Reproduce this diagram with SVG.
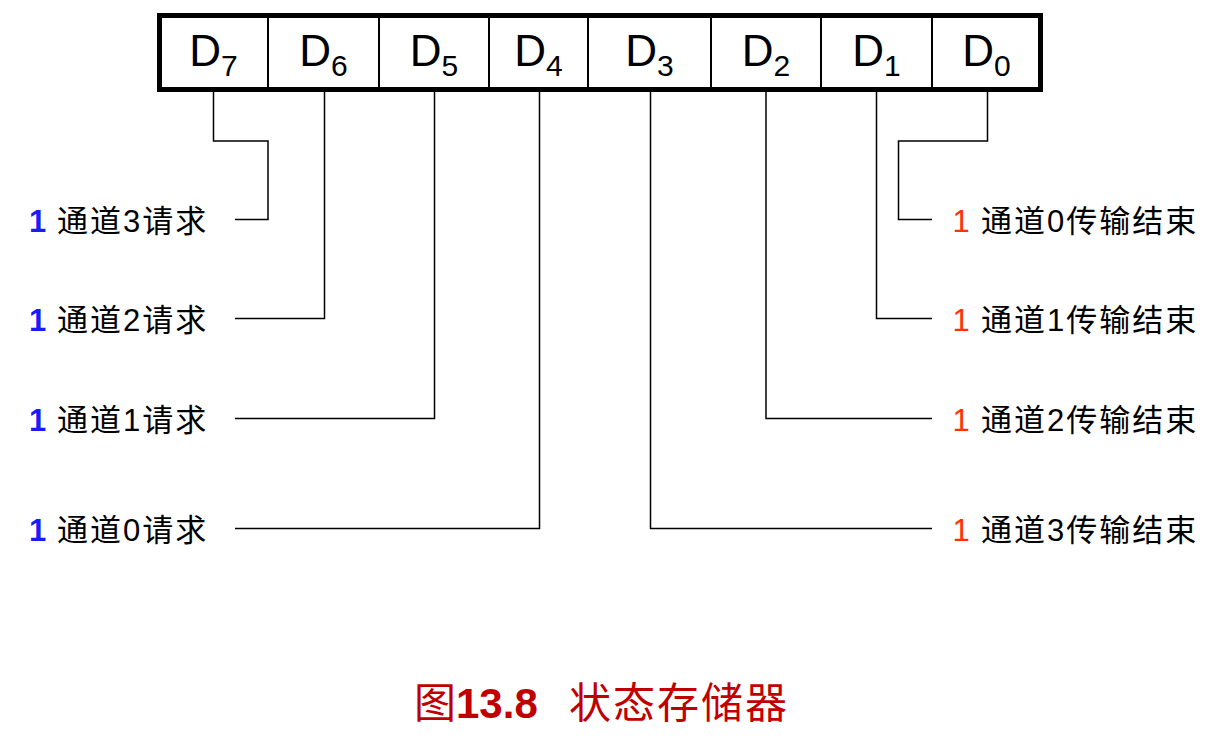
<svg xmlns="http://www.w3.org/2000/svg" width="1219" height="753" viewBox="0 0 1219 753">
<style>
.reg{font-family:"Liberation Sans","Noto Sans CJK SC",sans-serif;font-size:44px;fill:#000}
.sub{font-size:30px}
.div{stroke:#000;stroke-width:2}
.conn{fill:none;stroke:#000;stroke-width:1.5}
.lbl{font-family:"Liberation Sans","Noto Sans CJK SC",sans-serif;font-size:31px;letter-spacing:2px;fill:#000}
.one-l{font-weight:bold;fill:#1a1aff}
.one-r{fill:#ff3300}
.title{font-family:"Liberation Sans","Noto Sans CJK SC",sans-serif;font-size:42px;fill:#c00000}
</style>
<rect width="1219" height="753" fill="#fff"/>
<g id="register">
<rect x="159.5" y="15.5" width="881" height="74" fill="#fff" stroke="#000" stroke-width="5"/>
<line class="div" x1="268" y1="17" x2="268" y2="88"/>
<line class="div" x1="379" y1="17" x2="379" y2="88"/>
<line class="div" x1="489" y1="17" x2="489" y2="88"/>
<line class="div" x1="588" y1="17" x2="588" y2="88"/>
<line class="div" x1="711" y1="17" x2="711" y2="88"/>
<line class="div" x1="821" y1="17" x2="821" y2="88"/>
<line class="div" x1="932" y1="17" x2="932" y2="88"/>
<text class="reg" x="213.5" y="66" text-anchor="middle">D<tspan class="sub" dy="10">7</tspan></text>
<text class="reg" x="323.5" y="66" text-anchor="middle">D<tspan class="sub" dy="10">6</tspan></text>
<text class="reg" x="434" y="66" text-anchor="middle">D<tspan class="sub" dy="10">5</tspan></text>
<text class="reg" x="538.5" y="66" text-anchor="middle">D<tspan class="sub" dy="10">4</tspan></text>
<text class="reg" x="649.5" y="66" text-anchor="middle">D<tspan class="sub" dy="10">3</tspan></text>
<text class="reg" x="766" y="66" text-anchor="middle">D<tspan class="sub" dy="10">2</tspan></text>
<text class="reg" x="876.5" y="66" text-anchor="middle">D<tspan class="sub" dy="10">1</tspan></text>
<text class="reg" x="986.5" y="66" text-anchor="middle">D<tspan class="sub" dy="10">0</tspan></text>
</g>
<g id="connectors">
<path class="conn" d="M213.5,92 V141 H268 V219.5 H235"/>
<path class="conn" d="M324.5,92 V318.5 H235"/>
<path class="conn" d="M434.5,92 V418.5 H235"/>
<path class="conn" d="M539.5,92 V528.5 H235"/>
<path class="conn" d="M650.5,92 V528.5 H932"/>
<path class="conn" d="M766,92 V418.5 H932"/>
<path class="conn" d="M876.5,92 V318.5 H932"/>
<path class="conn" d="M987.5,92 V141 H898.5 V219.5 H932"/>
</g>
<g id="label-ch3-req"><text class="lbl" y="232"><tspan class="one-l" x="29">1</tspan><tspan x="57">通道3请求</tspan></text></g>
<g id="label-ch2-req"><text class="lbl" y="331"><tspan class="one-l" x="29">1</tspan><tspan x="57">通道2请求</tspan></text></g>
<g id="label-ch1-req"><text class="lbl" y="431"><tspan class="one-l" x="29">1</tspan><tspan x="57">通道1请求</tspan></text></g>
<g id="label-ch0-req"><text class="lbl" y="541"><tspan class="one-l" x="29">1</tspan><tspan x="57">通道0请求</tspan></text></g>
<g id="label-ch0-end"><text class="lbl" y="232"><tspan class="one-r" x="952.5">1</tspan><tspan x="981">通道0传输结束</tspan></text></g>
<g id="label-ch1-end"><text class="lbl" y="331"><tspan class="one-r" x="952.5">1</tspan><tspan x="981">通道1传输结束</tspan></text></g>
<g id="label-ch2-end"><text class="lbl" y="431"><tspan class="one-r" x="952.5">1</tspan><tspan x="981">通道2传输结束</tspan></text></g>
<g id="label-ch3-end"><text class="lbl" y="541"><tspan class="one-r" x="952.5">1</tspan><tspan x="981">通道3传输结束</tspan></text></g>
<g id="title"><text class="title" y="718"><tspan x="414">图</tspan><tspan x="456" font-weight="bold">13.8</tspan><tspan x="569" letter-spacing="2">状态存储器</tspan></text></g>
</svg>
